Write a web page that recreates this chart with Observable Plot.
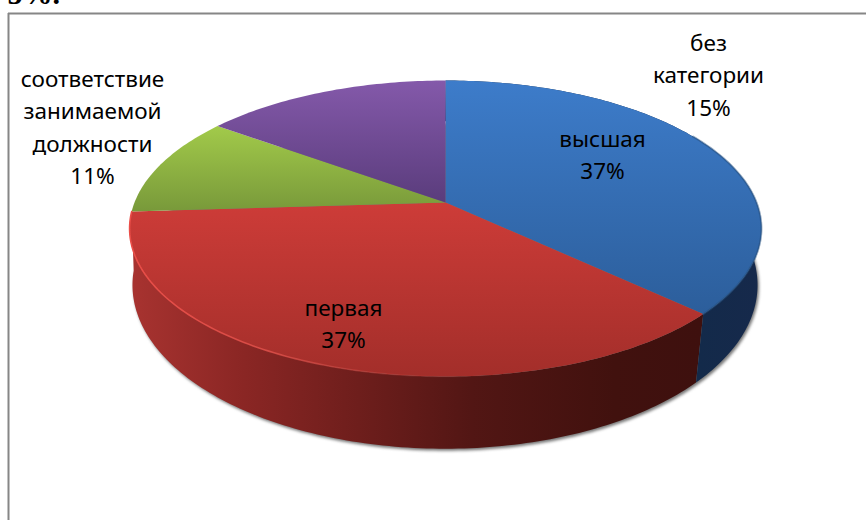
<!DOCTYPE html>
<html>
<head>
<meta charset="utf-8">
<style>html,body{margin:0;padding:0;background:#fff;overflow:hidden}</style>
<script src="https://cdn.jsdelivr.net/npm/d3@7"></script>
<script src="https://cdn.jsdelivr.net/npm/@observablehq/plot@0.6"></script>
</head>
<body>
<div id="chart"></div>
<script>
const categories = ["высшая", "первая", "соответствие\nзанимаемой\nдолжности", "без\nкатегории"];
const shares = [37, 37, 11, 15];
const topColors = [["#3d7cca", "#2c5e9b"], ["#cd3c38", "#a32e2a"], ["#a2ca4a", "#78993a"], ["#8459aa", "#5a3c7c"]];

// Perspective model of the 3D disc
const W = 866, H = 520;
const topDisc = {cx: 445, cy: 202, a: 311, b: 143.4, k: 0.1757};
const baseDisc = {cx: 444.5, cy: 260, a: 309, b: 160, k: 0.15};
const project = (d, deg) => {
  const t = deg * Math.PI / 180, u = Math.sin(t), v = -Math.cos(t), w = 1 - d.k * v;
  return {x: d.cx + d.a * u / w, y: d.cy + d.b * v / w};
};
const arc = (d, from, to) => {
  const n = Math.max(2, Math.ceil(Math.abs(to - from))), out = [];
  for (let i = 0; i <= n; i++) out.push(project(d, from + (to - from) * i / n));
  return out;
};
const ends = d3.cumsum(shares).map(s => s * 3.6);
const starts = ends.map((e, i) => (i ? ends[i - 1] : 0));
const sliceTop = i => [{x: topDisc.cx, y: topDisc.cy}, ...arc(topDisc, starts[i], ends[i])];
const sliceSide = i => [...arc(topDisc, starts[i], ends[i]), ...arc(baseDisc, ends[i], starts[i])];
const yRange = pts => d3.extent(pts, p => p.y);

const gradient = (id, x1, y1, x2, y2, stops) => {
  const g = defs.append("linearGradient").attr("id", id).attr("gradientUnits", "userSpaceOnUse")
    .attr("x1", x1).attr("y1", y1).attr("x2", x2).attr("y2", y2);
  stops.forEach(([o, c, a]) => g.append("stop").attr("offset", o).attr("stop-color", c).attr("stop-opacity", a ?? 1));
};
const defs = d3.create("svg:defs");
topColors.forEach(([c0, c1], i) => {
  const [y0, y1] = yRange(sliceTop(i));
  gradient(`top${i}`, 0, y0, 0, y1, [[0, c0], [1, c1]]);
});
gradient("sideRed", 130, 0, 700, 0, [[0, "#a83330"], [0.2, "#8a2624"], [0.4, "#6e1e1c"], [0.6, "#521614"], [0.85, "#41110e"], [1, "#3e100e"]]);
gradient("sideBlue", 697, 0, 760, 0, [[0, "#132a4a"], [1, "#16294b"]]);
gradient("rimRed", 130, 0, 700, 0, [[0, "#ea4e48", 1], [0.25, "#e2504a", 0.8], [0.5, "#c8423c", 0.25], [0.7, "#a83a34", 0]]);

const polygon = (pts, fill, extra = {}) =>
  Plot.line([...pts, pts[0]], {x: "x", y: "y", fill, stroke: "none", ...extra});

const labelFont = {fontFamily: "'Noto Sans'", fontSize: 22.5, lineHeight: 1.445, fill: "#000", stroke: "none", textAnchor: "middle", lineAnchor: "top", fontWeight: 400};
const labelAt = [{x: 602, y: 123}, {x: 343, y: 292}, {x: 92, y: 63}, {x: 708, y: 27}];
const labels = categories.map((c, i) => ({text: `${c}\n${shares[i]}%`, ...labelAt[i]}));

const plot = Plot.plot({
  width: W, height: H,
  margin: 0,
  x: {domain: [0, W], range: [0, W], axis: null},
  y: {domain: [0, H], range: [0, H], axis: null},
  style: {background: "#fff", overflow: "hidden"},
  marks: [
    () => defs.node(),
    Plot.ruleY([13], {x1: 8, x2: W, stroke: "#868686", strokeWidth: 2}),
    Plot.ruleX([8], {y1: 13, y2: H, stroke: "#868686", strokeWidth: 2}),
    Plot.text(["5%."], {x: 7, y: 3, textAnchor: "start", lineAnchor: "bottom", fontSize: 30, fontWeight: 700, fontFamily: "'Liberation Serif'", fill: "#000", stroke: "none"}),
    // soft shadow below the base
    polygon(arc(baseDisc, 0, 360).map(p => ({x: p.x + 1.5, y: p.y + 2})), "#777", {imageFilter: "blur(1.6px)"}),
    polygon(sliceSide(1), "url(#sideRed)"),
    polygon(sliceSide(0), "url(#sideBlue)"),
    ...shares.map((_, i) => polygon(sliceTop(i), `url(#top${i})`)),
    Plot.line(arc(topDisc, 60, starts[1]), {x: "x", y: "y", stroke: "#24507f", strokeWidth: 2, strokeOpacity: 0.5, imageFilter: "blur(0.6px)"}),
    Plot.line(arc(topDisc, starts[1], ends[1]), {x: "x", y: "y", stroke: "url(#rimRed)", strokeWidth: 1.6, imageFilter: "blur(0.4px)"}),
    Plot.text(labels, {x: "x", y: "y", text: "text", ...labelFont})
  ]
});
document.getElementById("chart").append(plot);
</script>
</body>
</html>
